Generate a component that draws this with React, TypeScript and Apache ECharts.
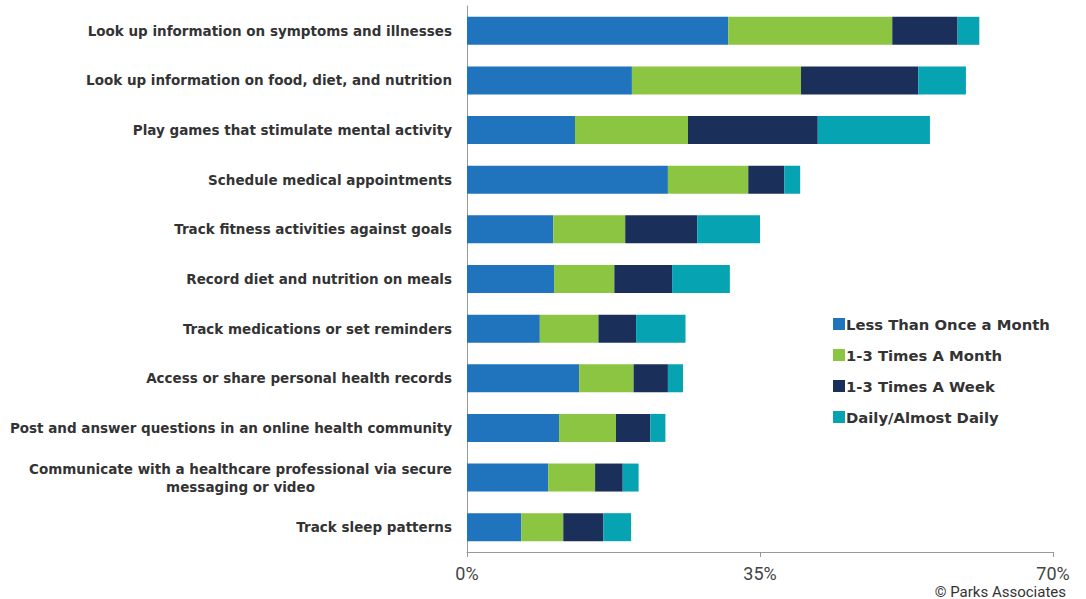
import React, { useEffect, useRef } from "react";
import * as echarts from "echarts";

const categories = [
  "Look up information on symptoms and illnesses",
  "Look up information on food, diet, and nutrition",
  "Play games that stimulate mental activity",
  "Schedule medical appointments",
  "Track fitness activities against goals",
  "Record diet and nutrition on meals",
  "Track medications or set reminders",
  "Access or share personal health records",
  "Post and answer questions in an online health community",
  "Communicate with a healthcare professional via secure\nmessaging or video",
  "Track sleep patterns",
];

const seriesNames = [
  "Less Than Once a Month",
  "1-3 Times A Month",
  "1-3 Times A Week",
  "Daily/Almost Daily",
];

const lessThanMonthly = [31.2, 19.7, 12.9, 24.0, 10.3, 10.4, 8.7, 13.4, 11.0, 9.7, 6.5];
const monthly = [19.6, 20.2, 13.5, 9.6, 8.6, 7.2, 7.0, 6.5, 6.8, 5.6, 5.0];
const weekly = [7.8, 14.0, 15.5, 4.3, 8.6, 6.9, 4.5, 4.1, 4.1, 3.3, 4.8];
const daily = [2.6, 5.7, 13.4, 1.9, 7.5, 6.9, 5.9, 1.8, 1.8, 1.9, 3.3];

const colors = ["#1F74BD", "#8BC541", "#1A2F5A", "#06A3B2"];

export default function App() {
  const ref = useRef<HTMLDivElement>(null);
  useEffect(() => {
    if (!ref.current) return;
    const chart = echarts.init(ref.current, null, { renderer: "svg" });
    const values = [lessThanMonthly, monthly, weekly, daily];
    chart.setOption({
      animation: false,
      color: colors,
      grid: {
        left: 467,
        right: 33,
        top: 6,
        bottom: 47,
        containLabel: false,
        outerBoundsMode: "none",
      },
      legend: {
        orient: "vertical",
        left: 828,
        top: 310,
        itemWidth: 12,
        itemHeight: 12,
        itemGap: 13,
        icon: "rect",
        textStyle: {
          fontFamily: "DejaVu Sans",
          fontWeight: "bold",
          fontSize: 14.8,
          color: "#333",
          lineHeight: 18,
          padding: [0, 0, 0, -4],
        },
        data: seriesNames,
      },
      xAxis: {
        type: "value",
        min: 0,
        max: 70,
        interval: 35,
        axisLine: { show: true, lineStyle: { color: "#999", width: 1 } },
        axisTick: { show: true, length: 5, lineStyle: { color: "#999" } },
        splitLine: { show: false },
        axisLabel: {
          formatter: "{value}%",
          fontFamily: "Roboto",
          fontSize: 18,
          lineHeight: 14,
          color: "#444",
          margin: 14,
        },
      },
      yAxis: {
        type: "category",
        inverse: true,
        data: categories,
        axisLine: { show: true, lineStyle: { color: "#999", width: 1 } },
        axisTick: { show: false },
        axisLabel: {
          margin: 15,
          fontFamily: "DejaVu Sans",
          fontWeight: "bold",
          fontSize: 13.5,
          color: "#333",
          lineHeight: 18,
          formatter: (v: string) => {
            const lines = v.split("\n");
            if (lines.length === 1) return v;
            return lines.map((l) => `{c|${l}}`).join("\n");
          },
          rich: {
            c: {
              align: "center",
              fontFamily: "DejaVu Sans",
              fontWeight: "bold",
              fontSize: 13.5,
              color: "#333",
              lineHeight: 18,
            },
          },
        },
      },
      series: seriesNames.map((name, i) => ({
        name,
        type: "bar",
        stack: "total",
        barWidth: 28,
        data: values[i],
        itemStyle: { color: colors[i] },
      })),
      graphic: [
        {
          type: "text",
          right: 20,
          bottom: 0,
          style: {
            text: "© Parks Associates",
            fontFamily: "Roboto",
            fontSize: 15,
            lineHeight: 13,
            fill: "#333",
          },
        },
      ],
    });
    return () => chart.dispose();
  }, []);
  return <div ref={ref} style={{ width: 1086, height: 599, position: "absolute", left: 0, top: 0 }} />;
}
